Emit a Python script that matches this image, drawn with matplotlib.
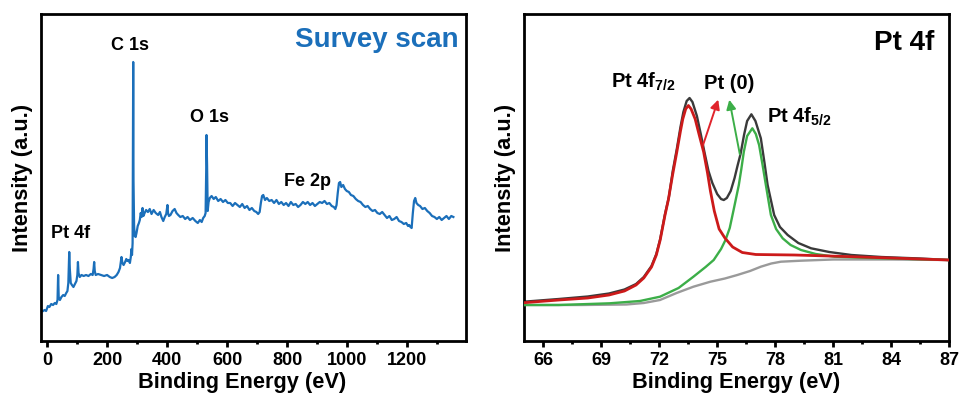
"""XPS spectra: survey scan and Pt 4f high-resolution region."""

import matplotlib

matplotlib.use("Agg")
import matplotlib.pyplot as plt

# ---- survey scan: (binding energy eV, intensity a.u.) ----
survey_pts = [
    (-13, 30), (-8, 31), (-3, 30), (3, 35), (8, 34), (14, 37), (20, 36), (26, 38), (31, 37), (35, 41),
    (37, 66), (39, 44), (43, 41), (48, 44), (54, 46), (59, 45), (64, 48), (68, 50), (71, 58), (73, 80),
    (74, 89), (76, 72), (79, 58), (83, 56), (88, 54), (93, 57), (98, 60), (101, 66), (103, 79), (105, 68),
    (109, 64), (115, 66), (122, 65), (130, 66), (138, 65), (146, 67), (152, 66), (155, 72), (157, 79),
    (159, 70), (162, 66), (170, 67), (180, 66), (190, 65), (200, 66), (209, 64), (217, 63), (225, 64),
    (232, 66), (238, 69), (243, 73), (246, 80), (248, 84), (251, 78), (255, 76), (260, 79), (264, 82),
    (268, 80), (272, 81), (276, 78), (279, 84), (281, 92), (283, 86), (285, 98), (287, 279), (288, 160),
    (290, 115), (292, 105), (295, 104), (298, 108), (302, 115), (306, 118), (309, 121), (312, 128),
    (315, 124), (318, 133), (321, 125), (325, 128), (330, 131), (336, 129), (342, 132), (348, 127),
    (355, 131), (362, 128), (370, 126), (376, 129), (381, 124), (387, 120), (392, 124), (397, 127),
    (401, 136), (403, 128), (406, 125), (411, 126), (418, 130), (425, 132), (431, 128), (437, 126),
    (444, 124), (452, 125), (460, 122), (468, 124), (476, 121), (485, 123), (494, 120), (502, 118),
    (509, 121), (515, 119), (520, 123), (525, 125), (528, 128), (530, 170), (531, 206), (533, 175),
    (535, 130), (538, 139), (542, 143), (548, 145), (555, 142), (562, 144), (570, 140), (578, 142),
    (586, 139), (594, 141), (602, 138), (610, 138), (618, 135), (626, 138), (634, 136), (642, 134),
    (650, 137), (658, 133), (666, 135), (674, 131), (682, 133), (690, 130), (697, 129), (703, 127),
    (708, 129), (712, 138), (716, 145), (720, 146), (726, 141), (732, 143), (740, 140), (748, 141),
    (756, 138), (764, 141), (772, 137), (780, 139), (788, 136), (796, 138), (804, 135), (812, 139),
    (820, 136), (828, 137), (836, 134), (844, 136), (852, 139), (860, 137), (868, 139), (876, 136),
    (884, 138), (892, 135), (900, 137), (908, 139), (916, 138), (924, 140), (932, 137), (940, 138),
    (948, 135), (955, 134), (960, 132), (964, 136), (968, 148), (972, 158), (976, 159), (980, 154),
    (986, 156), (992, 152), (998, 150), (1005, 149), (1012, 146), (1020, 145), (1028, 142), (1036, 140),
    (1044, 139), (1052, 136), (1060, 134), (1068, 135), (1076, 132), (1084, 130), (1092, 131),
    (1100, 128), (1108, 127), (1116, 129), (1124, 126), (1132, 123), (1140, 125), (1148, 121),
    (1156, 122), (1164, 124), (1172, 120), (1180, 119), (1188, 117), (1196, 118), (1202, 115),
    (1206, 116), (1210, 114), (1214, 113), (1218, 128), (1222, 140), (1226, 143), (1230, 138),
    (1236, 136), (1242, 135), (1250, 132), (1258, 133), (1266, 130), (1274, 128), (1282, 125),
    (1290, 124), (1298, 122), (1306, 124), (1314, 121), (1322, 123), (1330, 125), (1338, 122),
    (1346, 125), (1353, 124),
]
survey_be = [p[0] for p in survey_pts]
survey_int = [p[1] for p in survey_pts]

# ---- Pt 4f region: fitted components, envelope and background ----
red_pts = [
    (65.0, 38.3), (66.8, 41), (68.3, 43), (69.4, 46), (70.2, 50), (70.8, 56), (71.2, 63), (71.6, 74),
    (71.85, 86), (72.05, 101), (72.3, 126), (72.47, 141), (72.7, 167), (72.91, 189), (73.1, 210),
    (73.22, 222), (73.37, 232), (73.51, 235.5), (73.65, 232), (73.86, 222), (74.07, 206), (74.3, 189),
    (74.5, 168), (74.65, 150), (74.85, 130), (75.1, 112), (75.4, 103), (75.8, 94), (76.3, 88.5),
    (77.0, 86.5), (79.0, 86), (82.0, 84.3), (87.0, 81),
]
env_pts = [
    (65.0, 39.3), (66.8, 42), (68.3, 44.5), (69.4, 47.5), (70.2, 51.5), (70.8, 57), (71.2, 64),
    (71.6, 75), (71.85, 87), (72.05, 102), (72.3, 127), (72.5, 144), (72.7, 170), (72.91, 192),
    (73.1, 214), (73.25, 229), (73.42, 240), (73.57, 243), (73.72, 239), (73.95, 225), (74.15, 207),
    (74.35, 188), (74.55, 170), (74.75, 158), (75.0, 147), (75.2, 142), (75.34, 141), (75.5, 143),
    (75.7, 150), (75.9, 163), (76.05, 175), (76.21, 187), (76.39, 206), (76.55, 220), (76.77, 226.7),
    (76.98, 220), (77.26, 202.7), (77.45, 178), (77.61, 156), (77.95, 126), (78.25, 114), (78.65, 106),
    (79.2, 98), (79.86, 92.7), (80.8, 89), (81.95, 86), (83.5, 84), (85.5, 82.5), (87.0, 81),
]
green_pts = [
    (65.0, 36), (66.8, 36), (69.43, 37.7), (71.0, 40), (72.04, 44.3), (73.0, 53), (73.77, 64.3),
    (74.4, 74), (74.82, 81), (75.2, 92), (75.43, 101), (75.65, 113), (75.86, 132), (76.12, 156),
    (76.25, 172), (76.38, 189.3), (76.55, 205), (76.82, 212.7), (77.0, 207), (77.17, 196), (77.35, 176),
    (77.52, 156), (77.78, 126), (78.05, 112), (78.39, 102.7), (78.8, 96), (79.34, 91), (80.1, 87),
    (81.08, 84.3), (83.0, 83), (87.0, 81),
]
bg_pts = [
    (65.0, 36), (68.0, 36), (70.3, 36.5), (71.2, 38), (72.04, 41), (72.9, 48), (73.77, 54.3),
    (74.65, 59.3), (75.4, 62.5), (76.04, 66), (76.7, 70), (77.26, 74.3), (77.8, 77.5), (78.3, 79.3),
    (79.34, 80.3), (81.0, 81.5), (84.0, 81.5), (87.0, 81),
]

BLUE = "#1b6fba"
RED = "#cc1a1a"
ARROW_RED = "#e0242c"
GREEN = "#3cae48"
DARK = "#3a3a3a"
GRAY = "#9a9a9a"

plt.rcParams.update({
    "font.family": ["Liberation Sans", "DejaVu Sans"],
    "font.weight": "bold",
    "axes.labelweight": "bold",
    "axes.linewidth": 2.0,
    "mathtext.fontset": "custom",
    "mathtext.rm": "Liberation Sans:bold",
    "mathtext.it": "Liberation Sans:bold",
    "mathtext.bf": "Liberation Sans:bold",
})

fig = plt.figure(figsize=(9.6, 4.01), dpi=100)
ax1 = fig.add_axes([41 / 960, 60 / 401, 425 / 960, 327 / 401])
ax2 = fig.add_axes([524 / 960, 60 / 401, 425 / 960, 327 / 401])

# survey
ax1.plot(survey_be, survey_int, color=BLUE, lw=1.6)
ax1.set_xlim(-20, 1395)
ax1.set_ylim(0, 327)
ax1.set_xticks(range(0, 1400, 200))
ax1.set_xticks(range(100, 1400, 200), minor=True)
for lab, x, y in [("C 1s", 275, 295), ("O 1s", 540, 224), ("Fe 2p", 867, 160), ("Pt 4f", 79, 107)]:
    ax1.text(x, y, lab, ha="center", va="center", fontsize=13)
ax1.text(0.982, 0.92, "Survey scan", transform=ax1.transAxes, ha="right", va="center",
         fontsize=20, color=BLUE)


def xy(pts):
    return [p[0] for p in pts], [p[1] for p in pts]


# Pt 4f
ax2.plot(*xy(env_pts), color=DARK, lw=1.7, zorder=2)
ax2.plot(*xy(bg_pts), color=GRAY, lw=1.7, zorder=3)
ax2.plot(*xy(green_pts), color=GREEN, lw=1.7, zorder=4)
ax2.plot(*xy(red_pts), color=RED, lw=2.0, zorder=5)
ax2.set_xlim(65, 87)
ax2.set_ylim(0, 327)
ax2.set_xticks(range(66, 88, 3))
ax2.set_xticks([67.5, 70.5, 73.5, 76.5, 79.5, 82.5, 85.5], minor=True)
ax2.annotate("", xy=(75.1, 244), xytext=(74.2, 192),
             arrowprops=dict(arrowstyle="-|>", color=ARROW_RED, lw=1.4, mutation_scale=14))
ax2.annotate("", xy=(75.6, 244), xytext=(76.2, 184),
             arrowprops=dict(arrowstyle="-|>", color=GREEN, lw=1.4, mutation_scale=14))
ax2.text(69.5, 253.7, r"Pt 4f$_{\mathrm{7/2}}$", ha="left", va="baseline", fontsize=14.5)
ax2.text(74.33, 252, "Pt (0)", ha="left", va="baseline", fontsize=14.5)
ax2.text(77.57, 218, r"Pt 4f$_{\mathrm{5/2}}$", ha="left", va="baseline", fontsize=14.5)
ax2.text(0.965, 0.911, "Pt 4f", transform=ax2.transAxes, ha="right", va="center", fontsize=20)

for ax in (ax1, ax2):
    ax.set_yticks([])
    ax.tick_params(axis="x", which="major", direction="out", length=4, width=2, labelsize=13, pad=4)
    ax.tick_params(axis="x", which="minor", direction="out", length=2.5, width=2)
    ax.set_xlabel("Binding Energy (eV)", fontsize=15.7, labelpad=2)
    ax.set_ylabel("Intensity (a.u.)", fontsize=15.7, labelpad=6)
ax1.xaxis.set_label_coords(0.474, -0.095)
ax2.xaxis.set_label_coords(0.5, -0.095)

fig.savefig("out.png", dpi=100)
